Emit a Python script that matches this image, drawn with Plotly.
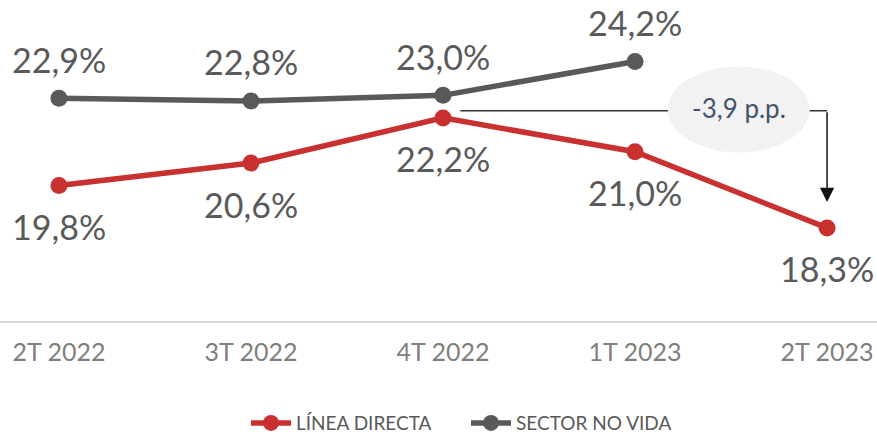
import plotly.graph_objects as go

categories = ["2T 2022", "3T 2022", "4T 2022", "1T 2023", "2T 2023"]
linea_directa = [19.8, 20.6, 22.2, 21.0, 18.3]
sector_no_vida = [22.9, 22.8, 23.0, 24.2, None]
series_names = ["LÍNEA DIRECTA", "SECTOR NO VIDA"]

RED = "#C8312F"
GRAY = "#595959"
FONT = "Lato"

xs = list(range(len(categories)))

def fmt(v):
    return f"{v:.1f}".replace(".", ",") + "%"

fig = go.Figure()
fig.add_trace(go.Scatter(
    x=xs, y=linea_directa, name=series_names[0], mode="lines+markers",
    line=dict(color=RED, width=5.5), marker=dict(color=RED, size=17),
    cliponaxis=False,
))
fig.add_trace(go.Scatter(
    x=xs, y=sector_no_vida, name=series_names[1], mode="lines+markers",
    line=dict(color=GRAY, width=5.5), marker=dict(color=GRAY, size=17),
    cliponaxis=False,
))

annotations = []
for i, v in enumerate(linea_directa):
    annotations.append(dict(x=i, y=v, text=fmt(v), showarrow=False, yshift=-41,
                            font=dict(family=FONT, size=34, color=GRAY)))
for i, v in enumerate(sector_no_vida):
    if v is None:
        continue
    annotations.append(dict(x=i, y=v, text=fmt(v), showarrow=False, yshift=39,
                            font=dict(family=FONT, size=34, color=GRAY)))

# difference annotation
diff = linea_directa[-1] - linea_directa[2]
diff_txt = f"{diff:.1f}".replace(".", ",") + " p.p."
conn_y = 22.45
bubble_x = 3.54
last = len(categories) - 1

annotations.append(dict(x=last, y=19.22, ax=last, ay=conn_y, axref="x", ayref="y",
                        xref="x", yref="y", text="", showarrow=True,
                        arrowhead=2, arrowsize=1.9, arrowwidth=1.5, arrowcolor="#111111"))
annotations.append(dict(x=bubble_x, y=conn_y, text=diff_txt, showarrow=False, yshift=3,
                        font=dict(family=FONT, size=26, color="#44546A")))

shapes = [
    dict(type="line", xref="x", yref="y", x0=2.09, x1=last, y0=conn_y, y1=conn_y,
         line=dict(color="#333333", width=1.5), layer="below"),
    dict(type="circle", xref="x", yref="y", xsizemode="pixel", ysizemode="pixel",
         xanchor=bubble_x, yanchor=22.5, x0=-71, x1=71, y0=-43, y1=43,
         fillcolor="#F2F2F2", line=dict(width=0), layer="above"),
]

fig.update_layout(
    width=877, height=434,
    margin=dict(l=0, r=0, t=0, b=113, autoexpand=False),
    plot_bgcolor="white", paper_bgcolor="white",
    font=dict(family=FONT, color=GRAY),
    showlegend=True,
    legend=dict(orientation="h", x=246 / 877, xanchor="left", y=-0.318, yanchor="middle",
                font=dict(family=FONT, size=19, color=GRAY), itemwidth=40,
                entrywidth=165, entrywidthmode="pixels",
                traceorder="normal"),
    annotations=annotations,
    shapes=shapes,
    xaxis=dict(range=[-0.307, 4.26], tickvals=xs, ticktext=categories,
               showgrid=False, zeroline=False, showline=True, linecolor="#D9D9D9",
               linewidth=1.5, ticks="", tickfont=dict(family=FONT, size=25, color="#7F7F7F"),
               ticklabelstandoff=8),
    yaxis=dict(range=[15, 26.38], visible=False, showgrid=False, zeroline=False),
)

fig.write_html("out.html", config={"displayModeBar": False},
               post_script="document.body.style.margin='0';")
